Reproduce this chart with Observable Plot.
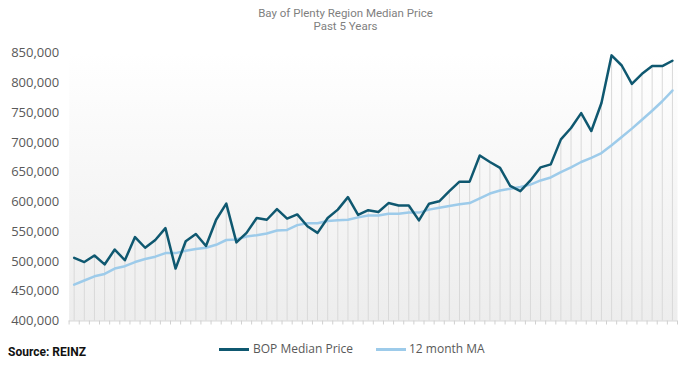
<!DOCTYPE html>
<html><head><meta charset="utf-8">
<script src="https://cdn.jsdelivr.net/npm/d3@7"></script>
<script src="https://cdn.jsdelivr.net/npm/@observablehq/plot@0.6"></script>
<style>
body{margin:0;background:#fff;width:691px;height:369px;overflow:hidden}
#wrap{position:relative;width:691px;height:369px}
#title{position:absolute;top:7px;left:0;width:691px;text-align:center;color:#7f7f7f;font-family:Roboto,sans-serif;font-size:11.5px;line-height:13px}
#chart{position:absolute;top:36px;left:0}
.leg{position:absolute;font-family:"Open Sans",sans-serif;font-size:12px;color:#595959;line-height:14px}
.sw{position:absolute;height:3px}
#source{position:absolute;left:8px;top:345px;font-family:Roboto,sans-serif;font-weight:700;font-size:12px;color:#111}
</style></head>
<body>
<div id="wrap">
  <div id="title">Bay of Plenty Region Median Price<br>Past 5 Years</div>
  <div id="chart"></div>
  <div id="source">Source: REINZ</div>
  <div class="sw" style="left:219px;top:348px;width:30px;background:#0f5870"></div>
  <div class="leg" style="left:253px;top:342px">BOP Median Price</div>
  <div class="sw" style="left:376px;top:348px;width:30px;background:#9dcbea"></div>
  <div class="leg" style="left:409px;top:342px">12 month MA</div>
</div>
<script>
// BOP median price, monthly, past 5 years (thousands NZD)
const bop = [506,499,510,495,520,502,541,523,536,556,
             488,534,546,526,570,597,532,548,573,570,
             588,572,579,559,548,573,587,608,578,586,
             583,598,594,594,569,597,601,618,634,634,
             678,667,657,627,618,636,658,663,705,724,
             749,719,766,846,829,798,815,828,828,837];
// 12 month moving average (thousands NZD)
const ma  = [461,468,475,479,488,492,499,504,508,514,
             514,518,521,523,528,536,537,542,544,547,
             552,553,561,564,564,568,569,570,574,577,
             577,580,580,582,582,587,590,593,596,598,
             606,614,619,622,625,629,636,641,650,658,
             667,674,682,695,709,723,738,753,769,787];
const yTicks = [400000,450000,500000,550000,600000,650000,700000,750000,800000,850000];

const data = bop.map((v,i)=>({i, bop:v*1000, ma:ma[i]*1000}));
const bounds = d3.range(bop.length+1).map(k=>k-0.5);

const plot = Plot.plot({
  width:691, height:300,
  marginTop:16.5, marginBottom:15.5, marginLeft:68.6, marginRight:14,
  x:{domain:[-0.5, bop.length-0.5]},
  y:{domain:[400000,850000]},
  style:{fontFamily:"'Open Sans',sans-serif", color:"#595959", background:"transparent"},
  marks:[
    Plot.frame({fill:"url(#bgGrad)", stroke:"none"}),
    Plot.ruleX(data,{x:"i", y1:400000, y2:"bop", stroke:"#d9d9d9", strokeWidth:1}),
    Plot.ruleY([400000],{stroke:"#d9d9d9", strokeWidth:1}),
    Plot.axisX({ticks:bounds, tickSize:4, tickFormat:()=>"", stroke:"#d0d0d0", label:null}),
    Plot.axisY({ticks:yTicks, tickSize:0, tickPadding:10, tickFormat:d3.format(","), fontSize:13, label:null}),
    Plot.line(data,{x:"i", y:"ma", stroke:"#9dcbea", strokeWidth:2.5}),
    Plot.line(data,{x:"i", y:"bop", stroke:"#0f5870", strokeWidth:2.5})
  ]
});
const svg = d3.select(plot);
const g = svg.insert("defs",":first-child").append("linearGradient")
  .attr("id","bgGrad").attr("x1",0).attr("y1",0).attr("x2",0).attr("y2",1);
g.append("stop").attr("offset","0%").attr("stop-color","#ffffff");
g.append("stop").attr("offset","100%").attr("stop-color","#ededed");
document.getElementById("chart").appendChild(plot);
</script>
</body></html>
